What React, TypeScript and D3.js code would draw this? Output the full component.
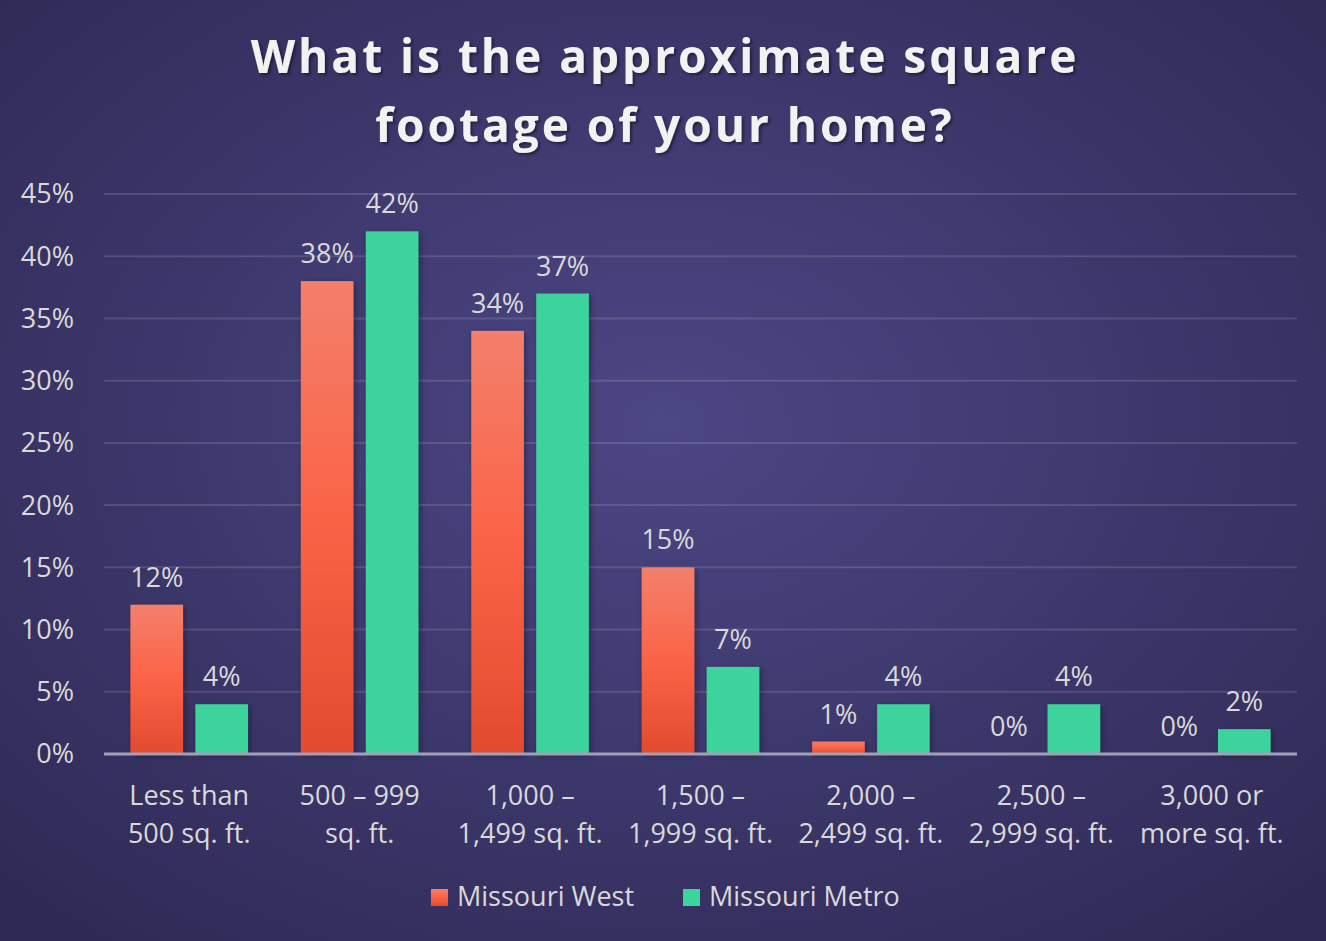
import { useRef, useEffect } from 'react';
import * as d3 from 'd3';

const categories = [
  'Less than\n500 sq. ft.',
  '500 – 999\nsq. ft.',
  '1,000 –\n1,499 sq. ft.',
  '1,500 –\n1,999 sq. ft.',
  '2,000 –\n2,499 sq. ft.',
  '2,500 –\n2,999 sq. ft.',
  '3,000 or\nmore sq. ft.',
];
const missouriWest = [12, 38, 34, 15, 1, 0, 0];
const missouriMetro = [4, 42, 37, 7, 4, 4, 2];
const seriesNames = ['Missouri West', 'Missouri Metro'];
const yTicks = [0, 5, 10, 15, 20, 25, 30, 35, 40, 45];

const W = 1326, H = 941;
const FONT = '"Open Sans", Lato, sans-serif';
const FS = 27;

export default function App() {
  const svgRef = useRef(null);

  useEffect(() => {
    const svg = d3.select(svgRef.current);
    svg.selectAll('*').remove();
    const margin = { top: 194, right: 29, bottom: 187, left: 104 };
    const innerW = W - margin.left - margin.right;
    const innerH = H - margin.top - margin.bottom;

    const defs = svg.append('defs');
    const bg = defs.append('radialGradient').attr('id', 'bg')
      .attr('cx', '50%').attr('cy', '45%').attr('r', '70%');
    bg.append('stop').attr('offset', '0%').attr('stop-color', '#4c4785');
    bg.append('stop').attr('offset', '100%').attr('stop-color', '#2f2a55');

    const westGrad = defs.append('linearGradient').attr('id', 'westGrad')
      .attr('x1', 0).attr('y1', 0).attr('x2', 0).attr('y2', 1);
    westGrad.append('stop').attr('offset', '0%').attr('stop-color', '#f37f6c');
    westGrad.append('stop').attr('offset', '50%').attr('stop-color', '#fb6346');
    westGrad.append('stop').attr('offset', '100%').attr('stop-color', '#e24b2f');

    const shadow = defs.append('filter').attr('id', 'shadow')
      .attr('x', '-20%').attr('y', '-20%').attr('width', '150%').attr('height', '150%');
    shadow.append('feDropShadow').attr('dx', 2).attr('dy', 2).attr('stdDeviation', 3)
      .attr('flood-color', '#000').attr('flood-opacity', 0.35);

    const tshadow = defs.append('filter').attr('id', 'tshadow');
    tshadow.append('feDropShadow').attr('dx', 2).attr('dy', 2).attr('stdDeviation', 1.5)
      .attr('flood-color', '#000').attr('flood-opacity', 0.45);

    svg.append('rect').attr('width', W).attr('height', H).attr('fill', 'url(#bg)');

    // title
    const title = svg.append('text').attr('text-anchor', 'middle')
      .attr('font-family', FONT).attr('font-weight', 'bold').attr('font-size', 46)
      .attr('letter-spacing', 3).attr('fill', '#f2f2f2').attr('filter', 'url(#tshadow)');
    title.append('tspan').attr('x', W / 2 + 2).attr('y', 73).text('What is the approximate square');
    title.append('tspan').attr('x', W / 2 + 2).attr('y', 142).text('footage of your home?');

    const g = svg.append('g').attr('transform', `translate(${margin.left},${margin.top})`);

    const x0 = d3.scaleBand().domain(categories).range([0, innerW]).paddingInner(0.31).paddingOuter(0.155);
    const x1 = d3.scaleBand().domain(seriesNames).range([0, x0.bandwidth()]).paddingInner(0.19);
    const y = d3.scaleLinear().domain([0, 45]).range([innerH, 0]);

    // gridlines
    g.selectAll('line.grid').data(yTicks.filter(t => t > 0)).join('line')
      .attr('x1', 0).attr('x2', innerW)
      .attr('y1', d => y(d)).attr('y2', d => y(d))
      .attr('stroke', '#ffffff').attr('stroke-opacity', 0.13).attr('stroke-width', 2);

    // y labels
    g.selectAll('text.ytick').data(yTicks).join('text')
      .attr('x', -30).attr('y', d => y(d)).attr('dy', '0.35em')
      .attr('text-anchor', 'end').attr('font-family', FONT).attr('font-size', FS)
      .attr('fill', '#d9d9d9').text(d => d + '%');

    const series = [
      { name: seriesNames[0], values: missouriWest, fill: 'url(#westGrad)' },
      { name: seriesNames[1], values: missouriMetro, fill: '#3dd39d' },
    ];

    series.forEach(s => {
      const sg = g.append('g');
      sg.selectAll('rect').data(s.values.map((v, i) => ({ v, c: categories[i] }))).join('rect')
        .attr('x', d => x0(d.c) + x1(s.name))
        .attr('width', x1.bandwidth())
        .attr('y', d => y(d.v))
        .attr('height', d => innerH - y(d.v))
        .attr('fill', s.fill)
        .attr('filter', 'url(#shadow)');
      sg.selectAll('text').data(s.values.map((v, i) => ({ v, c: categories[i] }))).join('text')
        .attr('x', d => x0(d.c) + x1(s.name) + x1.bandwidth() / 2)
        .attr('y', d => y(d.v) - 18)
        .attr('text-anchor', 'middle').attr('font-family', FONT).attr('font-size', FS)
        .attr('fill', '#d9d9d9').text(d => d.v + '%');
    });

    // baseline
    g.append('line').attr('x1', 0).attr('x2', innerW).attr('y1', innerH).attr('y2', innerH)
      .attr('stroke', '#a29fb8').attr('stroke-width', 3);

    // category labels
    const cl = g.selectAll('text.cat').data(categories).join('text')
      .attr('text-anchor', 'middle').attr('font-family', FONT).attr('font-size', FS)
      .attr('fill', '#d9d9d9');
    cl.selectAll('tspan').data(d => d.split('\n').map(t => ({ t, c: d }))).join('tspan')
      .attr('x', d => x0(d.c) + x0.bandwidth() / 2)
      .attr('y', (d, i) => innerH + 51 + i * 38)
      .text(d => d.t);

    // legend
    const legend = svg.append('g').attr('font-family', FONT).attr('font-size', FS).attr('fill', '#d9d9d9');
    const legendX = [431, 683];
    series.forEach((s, i) => {
      legend.append('rect').attr('x', legendX[i]).attr('y', 889).attr('width', 17).attr('height', 17)
        .attr('fill', s.fill);
      legend.append('text').attr('x', legendX[i] + 26).attr('y', 906).text(s.name);
    });
  }, []);

  return (
    <svg ref={svgRef} width={W} height={H}
      style={{ position: 'absolute', left: 0, top: 0, display: 'block' }} />
  );
}
